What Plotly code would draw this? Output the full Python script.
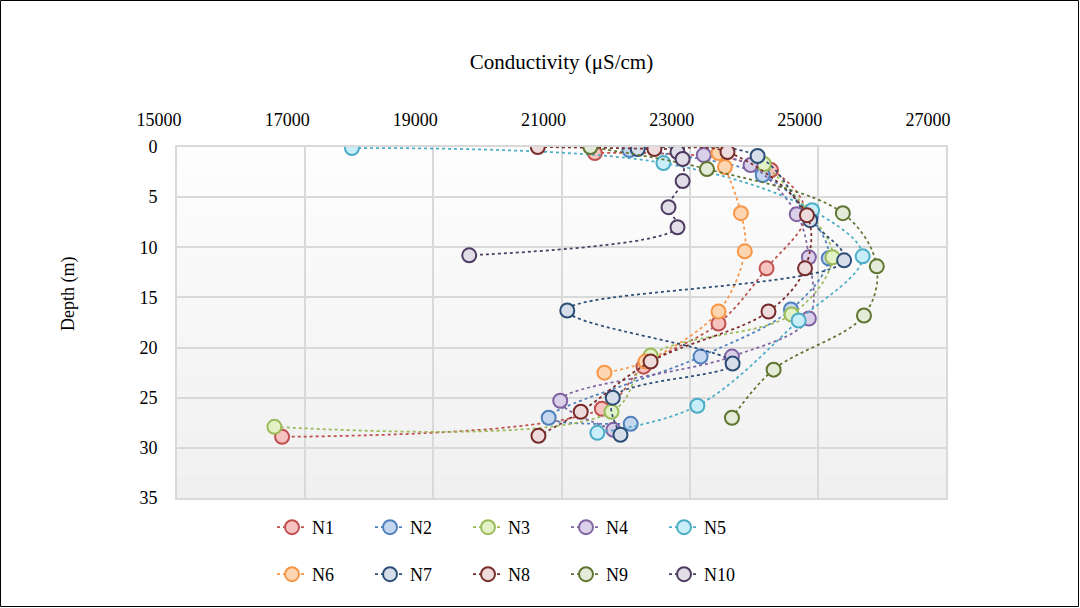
import plotly.graph_objects as go

# Conductivity profiles (µS/cm) against depth (m) for stations N1..N10
n1_depth = [0.6, 2.3, 6.7, 12.1, 17.6, 21.9, 26.1, 28.9]
n1_cond = [21520, 24270, 24810, 24200, 23450, 22280, 21630, 16640]

n2_depth = [0.3, 2.8, 7.0, 11.1, 16.2, 20.9, 27.0, 27.6]
n2_cond = [22060, 24140, 24890, 25170, 24580, 23170, 20800, 22080]

n3_depth = [1.7, 6.5, 11.0, 16.7, 20.8, 26.4, 27.9]
n3_cond = [24160, 24860, 25230, 24590, 22390, 21780, 16520]

n4_depth = [0.8, 1.8, 6.7, 11.0, 17.1, 20.9, 25.3, 28.2]
n4_cond = [23220, 23950, 24670, 24860, 24860, 23660, 20980, 21810]

n5_depth = [0.1, 1.6, 6.3, 10.9, 17.3, 25.8, 28.5]
n5_cond = [17730, 22590, 24910, 25700, 24700, 23120, 21560]

n6_depth = [0.6, 2.0, 6.6, 10.4, 16.4, 21.4, 22.5]
n6_cond = [23450, 23550, 23800, 23860, 23450, 22310, 21670]

n7_depth = [0.2, 0.9, 7.3, 11.3, 16.3, 21.6, 25.0, 28.7]
n7_cond = [22190, 24060, 24880, 25410, 21090, 23670, 21800, 21920]

n8_depth = [0.0, 0.2, 0.5, 6.8, 12.1, 16.4, 21.4, 26.4, 28.8]
n8_cond = [20630, 22450, 23590, 24830, 24800, 24230, 22390, 21300, 20640]

n9_depth = [0.0, 2.2, 6.6, 11.9, 16.8, 22.2, 27.0]
n9_cond = [21450, 23270, 25390, 25920, 25720, 24310, 23660]

n10_depth = [0.5, 1.2, 3.4, 6.0, 8.0, 10.8]
n10_cond = [22810, 22890, 22890, 22670, 22810, 19560]

series_names = ["N1", "N2", "N3", "N4", "N5", "N6", "N7", "N8", "N9", "N10"]
depths = [n1_depth, n2_depth, n3_depth, n4_depth, n5_depth,
          n6_depth, n7_depth, n8_depth, n9_depth, n10_depth]
conds = [n1_cond, n2_cond, n3_cond, n4_cond, n5_cond,
         n6_cond, n7_cond, n8_cond, n9_cond, n10_cond]

x_ticks = [15000, 17000, 19000, 21000, 23000, 25000, 27000]
y_ticks = [0, 5, 10, 15, 20, 25, 30, 35]

edge_colors = ["#C0504D", "#4F81BD", "#9BBB59", "#8064A2", "#4BACC6",
               "#F79646", "#2C4D75", "#772C2A", "#5F7530", "#4D3B62"]
fill_colors = ["#F6C3C1", "#C5D7EF", "#E3F1C6", "#DAD0EA", "#C8EEF9",
               "#FDD5B1", "#D6DEE9", "#EEDCDC", "#E4EBD8", "#E2DEE8"]

FONT = "Liberation Serif"
FS = 18

fig = go.Figure()
for i, name in enumerate(series_names):
    fig.add_trace(go.Scatter(
        x=conds[i], y=depths[i], name=name,
        mode="lines+markers",
        line=dict(color=edge_colors[i], width=1.75, dash="dot",
                  shape="spline", smoothing=1.0),
        marker=dict(size=14, color=fill_colors[i],
                    line=dict(color=edge_colors[i], width=2)),
        legend="legend" if i < 5 else "legend2",
    ))

# plot area: x 177..946 px, y 147..498 px
L, R, T, B = 177, 946, 147, 498
W, H = 1080, 608
pw, ph = R - L, B - T

# soft vertical shading of the plot area (white at top, light grey at bottom)
shapes = []
bands = 30
for k in range(bands):
    g = int(round(253 - 13 * k / (bands - 1)))
    shapes.append(dict(type="rect", xref="paper", yref="paper",
                       x0=0, x1=1, y0=1 - (k + 1) / bands, y1=1 - k / bands,
                       line=dict(width=0), fillcolor=f"rgb({g},{g},{g})",
                       layer="below"))
# outer frame of the chart
shapes.append(dict(type="rect", xref="paper", yref="paper",
                   x0=(0.5 - L) / pw, x1=(W - 1.5 - L) / pw,
                   y0=(B - (H - 1.5)) / ph, y1=(B - 0.5) / ph,
                   line=dict(color="black", width=1),
                   fillcolor="rgba(0,0,0,0)", layer="below"))

legend_common = dict(orientation="h", xanchor="left", yanchor="top",
                     entrywidth=53, entrywidthmode="pixels",
                     bgcolor="rgba(0,0,0,0)",
                     font=dict(family=FONT, size=FS))

fig.update_layout(
    width=W, height=H,
    margin=dict(l=L, r=W - R, t=T, b=H - B),
    paper_bgcolor="white",
    plot_bgcolor="rgba(0,0,0,0)",
    font=dict(family=FONT, size=FS, color="black"),
    xaxis=dict(
        side="top", range=[15000, 27000], tickvals=x_ticks,
        ticktext=[str(v) for v in x_ticks],
        showgrid=True, gridcolor="#D9D9D9", gridwidth=2,
        showline=True, linecolor="#D9D9D9", linewidth=2, mirror=True,
        ticks="outside", ticklen=12, tickcolor="rgba(0,0,0,0)",
        ticklabelshift=-18,
        zeroline=False,
        title=dict(text="Conductivity (μS/cm)", standoff=34,
                   font=dict(family=FONT, size=21)),
        tickfont=dict(family=FONT, size=FS),
    ),
    yaxis=dict(
        range=[35, 0], tickvals=y_ticks,
        showgrid=True, gridcolor="#D9D9D9", gridwidth=2,
        showline=True, linecolor="#D9D9D9", linewidth=2, mirror=True,
        ticks="outside", ticklen=14, tickcolor="rgba(0,0,0,0)",
        zeroline=False,
        tickfont=dict(family=FONT, size=FS),
    ),
    annotations=[dict(text="Depth (m)", xref="paper", yref="paper",
                      x=(68 - L) / pw, y=(B - 294) / ph,
                      xanchor="center", yanchor="middle",
                      textangle=-90, showarrow=False,
                      font=dict(family=FONT, size=FS))],
    legend=dict(x=(272 - L) / pw, y=(B - 509) / ph, **legend_common),
    legend2=dict(x=(272 - L) / pw, y=(B - 556) / ph, **legend_common),
    shapes=shapes,
)

fig.write_html("out.html")
